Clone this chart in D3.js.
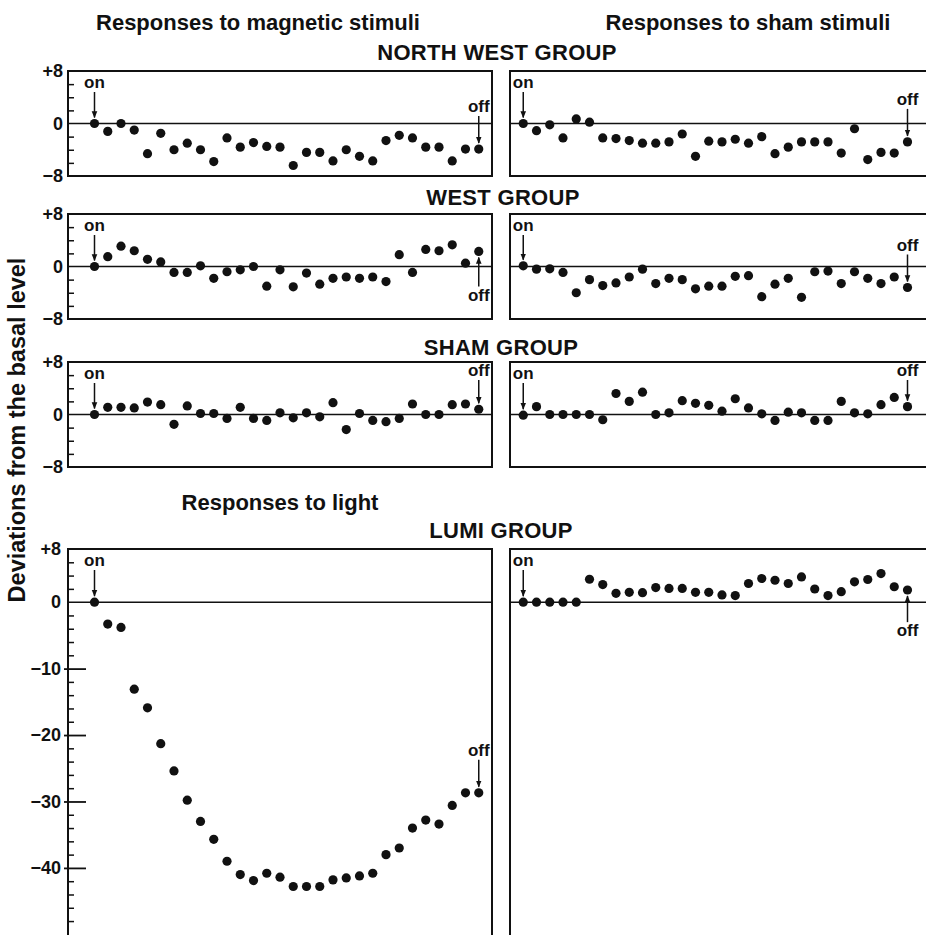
<!DOCTYPE html>
<html>
<head>
<meta charset="utf-8">
<script src="https://cdnjs.cloudflare.com/ajax/libs/d3/7.8.5/d3.min.js"></script>
<style>
  body { margin: 0; background: #fff; }
  svg { font-family: "Liberation Sans", Arial, sans-serif; }
  .head { font-weight: bold; font-size: 22px; fill: #111; }
  .group { font-weight: bold; font-size: 22px; fill: #111; letter-spacing: 0.3px; }
  .ylabel { font-weight: bold; font-size: 23.5px; fill: #111; }
  .note { font-weight: bold; font-size: 17px; fill: #111; }
</style>
</head>
<body>
<div id="chart-area"></div>
<script>
// session index of each measurement (30 per panel)
const sessions = [1, 2, 3, 4, 5, 6, 7, 8, 9, 10, 11, 12, 13, 14, 15,
  16, 17, 18, 19, 20, 21, 22, 23, 24, 25, 26, 27, 28, 29, 30];

// deviations from the basal level
const nwMagnetic = [0, -1.2, 0, -1, -4.6, -1.5, -4, -3, -4, -5.8, -2.2, -3.6, -2.9, -3.5, -3.6,
  -6.4, -4.4, -4.4, -5.7, -4, -5, -5.7, -2.6, -1.8, -2.2, -3.6, -3.6, -5.7, -3.9, -3.9];
const nwSham = [0, -1.1, -0.2, -2.2, 0.7, 0.2, -2.2, -2.3, -2.6, -3, -3, -2.8, -1.6, -5, -2.7,
  -2.8, -2.4, -3, -2, -4.6, -3.6, -2.8, -2.8, -2.8, -4.5, -0.8, -5.5, -4.4, -4.5, -2.8];
const westMagnetic = [0, 1.5, 3.1, 2.4, 1.1, 0.7, -0.9, -0.9, 0.1, -1.8, -0.8, -0.5, 0, -3, -0.5,
  -3.1, -1, -2.7, -1.8, -1.6, -1.8, -1.6, -2.3, 1.8, -0.9, 2.6, 2.4, 3.3, 0.5, 2.3];
const westSham = [0.1, -0.4, -0.35, -0.9, -4, -2, -2.9, -2.5, -1.6, -0.4, -2.6, -1.8, -2, -3.4, -3,
  -3, -1.5, -1.4, -4.6, -2.7, -1.8, -4.7, -0.8, -0.7, -2.6, -0.8, -1.8, -2.6, -1.6, -3.2];
const shamMagnetic = [0, 1.1, 1.1, 1, 1.9, 1.5, -1.5, 1.3, 0.15, 0.15, -0.6, 1.1, -0.6, -0.9, 0.25,
  -0.5, 0.25, -0.35, 1.8, -2.3, 0.15, -0.9, -1.1, -0.6, 1.6, 0, 0, 1.5, 1.6, 0.8];
const shamSham = [-0.1, 1.2, 0, 0, 0, 0, -0.8, 3.2, 2, 3.4, 0, 0.25, 2.1, 1.7, 1.4,
  0.5, 2.4, 1, 0.1, -0.9, 0.35, 0.25, -0.9, -0.9, 2, 0.25, 0.1, 1.5, 2.6, 1.2];
const lumiLight = [0, -3.3, -3.8, -13.1, -15.9, -21.3, -25.4, -29.8, -33, -35.7, -39, -41, -41.9, -40.8, -41.4,
  -42.8, -42.8, -42.8, -41.8, -41.5, -41.2, -40.8, -38, -37, -34, -32.8, -33.4, -30.6, -28.7, -28.7];
const lumiSham = [0, 0, 0, 0, 0, 3.45, 2.65, 1.33, 1.48, 1.43, 2.2, 2.07, 2.07, 1.48, 1.48,
  1.09, 0.99, 2.81, 3.56, 3.3, 2.81, 3.8, 1.98, 0.99, 1.58, 3.06, 3.41, 4.3, 2.32, 1.83];

// tick labels
const smallTickLabels = [8, 0, -8];
const lumiTickLabels = [8, 0, -10, -20, -30, -40];

const chartSize = { width: 926, height: 935 };
const panelWidth = 424;
const fmt = d => d > 0 ? `+${d}` : d3.format('d')(d);

const svg = d3.select('#chart-area').append('svg')
  .attr('width', chartSize.width)
  .attr('height', chartSize.height);

const defs = svg.append('defs');
defs.append('marker')
  .attr('id', 'arrow')
  .attr('viewBox', '0 0 10 10')
  .attr('refX', 9).attr('refY', 5)
  .attr('markerWidth', 7).attr('markerHeight', 7)
  .attr('markerUnits', 'userSpaceOnUse')
  .attr('orient', 'auto')
  .append('path')
  .attr('d', 'M0,1 L10,5 L0,9 Z')
  .attr('fill', '#111');

const drawPanel = (p) => {
  const g = svg.append('g').attr('transform', `translate(${p.left},${p.top})`);
  const x = d3.scaleLinear().domain(p.xDomain).range([0, panelWidth]);
  const y = d3.scaleLinear().domain(p.yDomain).range([p.height, 0]);

  // frame
  g.append('rect')
    .attr('width', panelWidth).attr('height', p.height)
    .attr('fill', 'none').attr('stroke', '#111').attr('stroke-width', 2);

  // zero line
  g.append('line')
    .attr('x1', 0).attr('x2', panelWidth)
    .attr('y1', y(0)).attr('y2', y(0))
    .attr('stroke', '#111').attr('stroke-width', 1.5);

  if (p.axis) {
    const minor = d3.range(Math.ceil(p.yDomain[0] / 2) * 2 + 2, p.yDomain[1], 2).filter(v => v !== 0 && v % 10 !== 0);
    g.append('g').attr('class', 'minor')
      .call(d3.axisRight(y).tickValues(minor).tickSize(6).tickFormat(''))
      .call(a => a.select('.domain').remove())
      .call(a => a.selectAll('line').attr('stroke', '#111').attr('stroke-width', 1.5));

    if (p.major) {
      g.append('g').attr('class', 'major')
        .attr('transform', 'translate(-4,0)')
        .call(d3.axisRight(y).tickValues(p.major).tickSize(22).tickFormat(''))
        .call(a => a.select('.domain').remove())
        .call(a => a.selectAll('line').attr('stroke', '#111').attr('stroke-width', 1.8));
    }

    g.append('g').attr('class', 'labels')
      .call(d3.axisLeft(y).tickValues(p.labels).tickSize(0).tickPadding(p.major ? 7 : 5).tickFormat(fmt))
      .attr('font-size', 18)
      .attr('font-weight', 'bold')
      .attr('font-family', '"Liberation Sans", Arial, sans-serif')
      .call(a => a.select('.domain').remove())
      .call(a => a.selectAll('text').attr('fill', '#111'));
  }

  // data points
  g.selectAll('circle').data(p.values).enter()
    .append('circle')
    .attr('cx', (d, i) => x(sessions[i]))
    .attr('cy', d => y(d))
    .attr('r', 4.6)
    .attr('fill', '#111');

  // "on" marker at first session
  const x0 = x(sessions[0]);
  const onBase = 17;
  g.append('text').attr('class', 'note')
    .attr('x', x0).attr('y', onBase).attr('text-anchor', 'middle').text('on');
  g.append('line')
    .attr('x1', x0).attr('x2', x0)
    .attr('y1', onBase + 4).attr('y2', y(p.values[0]) - 6)
    .attr('stroke', '#111').attr('stroke-width', 1.5)
    .attr('marker-end', 'url(#arrow)');

  // "off" marker at last session
  const n = p.values.length - 1;
  const xn = x(sessions[n]);
  const yn = y(p.values[n]);
  if (p.off === 'above') {
    const base = Math.max(yn - 37, 14);
    g.append('text').attr('class', 'note')
      .attr('x', xn).attr('y', base).attr('text-anchor', 'middle').text('off');
    g.append('line')
      .attr('x1', xn).attr('x2', xn)
      .attr('y1', base + 4).attr('y2', yn - 6)
      .attr('stroke', '#111').attr('stroke-width', 1.5)
      .attr('marker-end', 'url(#arrow)');
  } else {
    const base = y(0) + 34;
    g.append('text').attr('class', 'note')
      .attr('x', xn).attr('y', base).attr('text-anchor', 'middle').text('off');
    g.append('line')
      .attr('x1', xn).attr('x2', xn)
      .attr('y1', base - 14).attr('y2', Math.min(yn + 6, y(0)))
      .attr('stroke', '#111').attr('stroke-width', 1.5)
      .attr('marker-end', 'url(#arrow)');
  }
};

const leftX = 68, rightX = 510;
const leftDomain = [-1, 31], rightDomain = [0, 32];
const rows = [
  { top: 71, height: 105, yDomain: [-8, 8], labels: smallTickLabels, mag: nwMagnetic, sham: nwSham, offL: 'above', offR: 'above' },
  { top: 214, height: 105, yDomain: [-8, 8], labels: smallTickLabels, mag: westMagnetic, sham: westSham, offL: 'below', offR: 'above' },
  { top: 362, height: 105, yDomain: [-8, 8], labels: smallTickLabels, mag: shamMagnetic, sham: shamSham, offL: 'above', offR: 'above' },
  { top: 549, height: 392, yDomain: [-51, 8], labels: lumiTickLabels, major: [-10, -20, -30, -40], mag: lumiLight, sham: lumiSham, offL: 'above', offR: 'below' }
];

rows.forEach(r => {
  drawPanel({ left: leftX, top: r.top, height: r.height, xDomain: leftDomain, yDomain: r.yDomain,
    values: r.mag, axis: true, labels: r.labels, major: r.major, off: r.offL });
  drawPanel({ left: rightX, top: r.top, height: r.height, xDomain: rightDomain, yDomain: r.yDomain,
    values: r.sham, axis: false, off: r.offR });
});

// headings
const heads = [
  { text: 'Responses to magnetic stimuli', x: 258, y: 30, cls: 'head' },
  { text: 'Responses to sham stimuli', x: 748, y: 30, cls: 'head' },
  { text: 'NORTH WEST GROUP', x: 497, y: 60, cls: 'group' },
  { text: 'WEST GROUP', x: 503, y: 205, cls: 'group' },
  { text: 'SHAM GROUP', x: 501, y: 355, cls: 'group' },
  { text: 'Responses to light', x: 280, y: 510, cls: 'head' },
  { text: 'LUMI GROUP', x: 501, y: 538, cls: 'group' }
];
svg.selectAll('.heading').data(heads).enter()
  .append('text')
  .attr('class', d => `heading ${d.cls}`)
  .attr('x', d => d.x).attr('y', d => d.y)
  .attr('text-anchor', 'middle')
  .text(d => d.text);

svg.append('text')
  .attr('class', 'ylabel')
  .attr('transform', 'translate(25,430) rotate(-90)')
  .attr('text-anchor', 'middle')
  .text('Deviations from the basal level');
</script>
</body>
</html>
